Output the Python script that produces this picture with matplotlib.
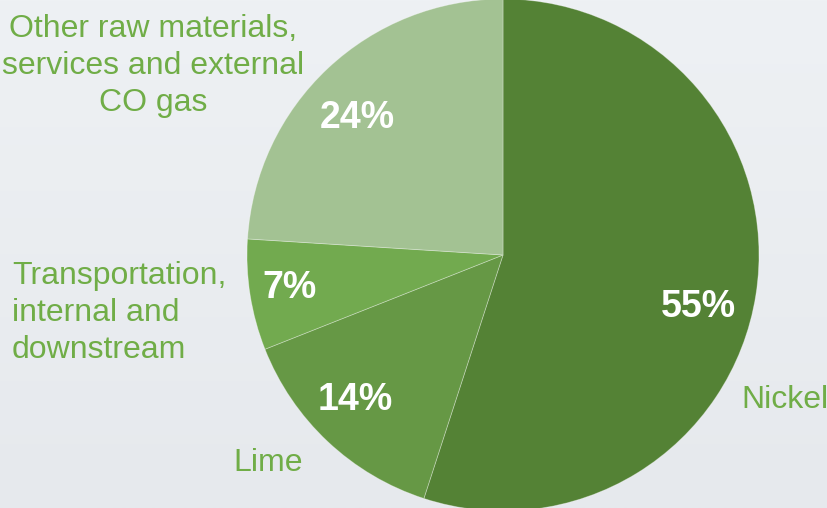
import numpy as np
import matplotlib.pyplot as plt

# cost shares
categories = ["Nickel", "Lime", "Transportation,\ninternal and\ndownstream",
              "Other raw materials,\nservices and external\nCO gas"]
shares = [55, 14, 7, 24]
colors = ["#548235", "#669845", "#72AA4F", "#A3C293"]

plt.rcParams["font.family"] = ["Liberation Sans", "DejaVu Sans"]
label_color = "#70AD47"

fig = plt.figure(figsize=(8.28, 5.08), dpi=100)

# pale backdrop
bg = fig.add_axes([0, 0, 1, 1])
grad = np.linspace(0, 1, 256).reshape(-1, 1)
bg.imshow(grad, aspect="auto", extent=[0, 1, 0, 1],
          cmap=plt.matplotlib.colors.LinearSegmentedColormap.from_list(
              "bg", ["#EEF1F4", "#E6E9ED"]))
bg.axis("off")

# pie centred at (503, 255) px with 256 px radius
W, H, R = 828, 508, 256
cx, cy = 503, 255
ax = fig.add_axes([(cx - R) / W, (H - cy - R) / H, 2 * R / W, 2 * R / H])
wedges, texts, autotexts = ax.pie(
    shares, colors=colors, startangle=90, counterclock=False,
    autopct="%d%%", pctdistance=0.79,
    wedgeprops=dict(edgecolor=(1, 1, 1, 0.35), linewidth=0.6),
    textprops=dict(color="white", fontsize=27, fontweight="bold"))
ax.set_xlim(-1, 1)
ax.set_ylim(-1, 1)
ax.set_aspect("equal")
ax.axis("off")

# percent label positions
pct_pos = [(698, 307), (355, 400), (290, 288), (357, 118)]
for t, (px, py) in zip(autotexts, pct_pos):
    t.set_position(((px - cx) / R, (cy - py) / R))
    t.set_ha("center")
    t.set_va("center")

# category labels
lab_pos = [(741, 400, "left"), (268, 463, "center"),
           (12, 313, "left"), (153, 66, "center")]
for name, (px, py, ha) in zip(categories, lab_pos):
    ax.text((px - cx) / R, (cy - py) / R, name, color=label_color,
            fontsize=23, ha=ha, va="center", multialignment=ha,
            linespacing=1.3, clip_on=False)

fig.savefig("out.png", dpi=100)
